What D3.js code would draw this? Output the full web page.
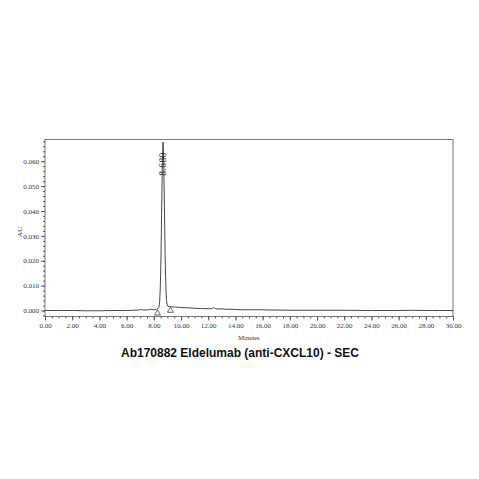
<!DOCTYPE html>
<html>
<head>
<meta charset="utf-8">
<script src="https://cdn.jsdelivr.net/npm/d3@7"></script>
<style>
  html, body { margin: 0; padding: 0; background: #fff; }
  svg { display: block; }
  .tick text { font-family: "Liberation Serif", "DejaVu Serif", serif; fill: #333; }
</style>
</head>
<body>
<svg id="chart" width="479" height="479"></svg>
<script>
// chromatogram trace, minutes vs AU
var times = [0, 1, 2, 3, 4, 5, 5.5, 6, 6.5, 6.9, 7.05, 7.2, 7.5, 7.6, 7.8, 8.0, 8.2, 8.3,
  8.38, 8.43, 8.48, 8.53, 8.58, 8.63, 8.68, 8.73, 8.78, 8.83, 8.88, 8.93, 8.98, 9.05, 9.2,
  9.6, 10, 10.5, 11, 11.5, 12, 12.25, 12.4, 12.55, 13, 13.5, 14, 14.5, 15, 15.5, 16, 16.4,
  17, 18, 19, 20, 22, 24, 26, 27, 28, 29, 30];
var values = [0.0000, 0.0000, 0.0000, -0.0001, -0.0001, 0.0000, 0.0000, 0.0000, 0.0001, 0.0002, 0.0004, 0.0002, 0.0002, 0.0003, 0.0005, 0.0003, 0.0005, 0.0007,
  0.0013, 0.0035, 0.0095, 0.0220, 0.0410, 0.0590, 0.0677, 0.0595, 0.0415, 0.0230, 0.0105, 0.0045, 0.0022, 0.0016, 0.0015,
  0.0014, 0.0012, 0.0011, 0.0009, 0.0008, 0.0007, 0.0007, 0.0012, 0.0007, 0.0006, 0.0005, 0.0004, 0.0003, 0.0003, 0.0003, 0.0003, 0.0002,
  0.0002, 0.0001, 0.0001, 0.0001, 0.0001, 0.0000, 0.0000, 0.0001, 0.0000, 0.0000, 0.0000];

var peakTimes = [8.68];
var peakLabels = ['8.680'];
var peakBounds = [[8.27, 0.0004], [9.22, 0.0015]];

var xTicks = [0, 2, 4, 6, 8, 10, 12, 14, 16, 18, 20, 22, 24, 26, 28, 30];
var yTicks = [0, 0.01, 0.02, 0.03, 0.04, 0.05, 0.06];

var title = 'Ab170882 Eldelumab (anti-CXCL10) - SEC';

var margin = {left: 45, right: 26, top: 139.5, bottom: 162.5};
var W = 479, H = 479;
var svg = d3.select('#chart');

var x = d3.scaleLinear().domain([0, 30]).range([margin.left, W - margin.right]);
var y = d3.scaleLinear().domain([-0.00241, 0.06873]).range([H - margin.bottom, margin.top]);

// minor ticks
svg.append('g')
    .attr('transform', 'translate(0,' + (H - margin.bottom) + ')')
    .call(d3.axisBottom(x).tickValues(d3.range(0, 30.01, 0.5)).tickSize(2).tickFormat(''))
    .call(g => g.select('.domain').remove())
    .call(g => g.selectAll('line').attr('stroke', '#555'));
svg.append('g')
    .attr('transform', 'translate(' + margin.left + ',0)')
    .call(d3.axisLeft(y).tickValues(d3.range(-0.002, 0.0685, 0.002)).tickSize(2).tickFormat(''))
    .call(g => g.select('.domain').remove())
    .call(g => g.selectAll('line').attr('stroke', '#555'));

// major ticks
var xAxis = svg.append('g')
    .attr('transform', 'translate(0,' + (H - margin.bottom) + ')')
    .call(d3.axisBottom(x).tickValues(xTicks).tickSize(4).tickPadding(3).tickFormat(d3.format('.2f')));
xAxis.select('.domain').remove();
xAxis.selectAll('line').attr('stroke', '#555');
xAxis.selectAll('text').attr('font-size', 7);

var yAxis = svg.append('g')
    .attr('transform', 'translate(' + margin.left + ',0)')
    .call(d3.axisLeft(y).tickValues(yTicks).tickSize(4).tickPadding(2).tickFormat(d3.format('.3f')));
yAxis.select('.domain').remove();
yAxis.selectAll('line').attr('stroke', '#555');
yAxis.selectAll('text').attr('font-size', 7);

// frame
svg.append('rect')
    .attr('x', margin.left)
    .attr('y', margin.top)
    .attr('width', W - margin.left - margin.right)
    .attr('height', H - margin.top - margin.bottom)
    .attr('fill', 'none')
    .attr('stroke', '#666')
    .attr('stroke-width', 0.9);

// trace
var line = d3.line()
    .x((d, i) => x(times[i]))
    .y(d => y(d));
svg.append('path')
    .datum(values)
    .attr('d', line)
    .attr('fill', 'none')
    .attr('stroke', '#333')
    .attr('stroke-width', 0.9);

// peak start / end markers
peakBounds.forEach(function(b) {
  var px = x(b[0]), py = y(b[1]) + 0.5;
  svg.append('path')
      .attr('d', 'M' + px + ',' + py + 'L' + (px - 3) + ',' + (py + 5) + 'L' + (px + 3) + ',' + (py + 5) + 'Z')
      .attr('fill', '#fff')
      .attr('stroke', '#444')
      .attr('stroke-width', 0.8);
});

// peak label
peakTimes.forEach(function(t, i) {
  svg.append('text')
      .attr('transform', 'translate(' + (x(t) + 3) + ',' + 164 + ') rotate(-90)')
      .attr('text-anchor', 'middle')
      .attr('font-family', '"Liberation Serif", "DejaVu Serif", serif')
      .attr('font-size', 9.5)
      .attr('letter-spacing', 0.4)
      .attr('fill', '#333')
      .text(peakLabels[i]);
});

// axis titles
svg.append('text')
    .attr('transform', 'translate(22,' + 232 + ') rotate(-90)')
    .attr('text-anchor', 'middle')
    .attr('font-family', '"Liberation Serif", "DejaVu Serif", serif')
    .attr('font-size', 7)
    .attr('fill', '#333')
    .text('AU');

svg.append('text')
    .attr('x', 249)
    .attr('y', 340)
    .attr('text-anchor', 'middle')
    .attr('font-family', '"Liberation Serif", "DejaVu Serif", serif')
    .attr('font-size', 6.5)
    .attr('fill', '#333')
    .text('Minutes');

svg.append('text')
    .attr('x', 240)
    .attr('y', 357)
    .attr('text-anchor', 'middle')
    .attr('font-family', '"Liberation Sans", Arial, sans-serif')
    .attr('font-weight', 'bold')
    .attr('font-size', 12)
    .attr('fill', '#111')
    .text(title);
</script>
</body>
</html>
